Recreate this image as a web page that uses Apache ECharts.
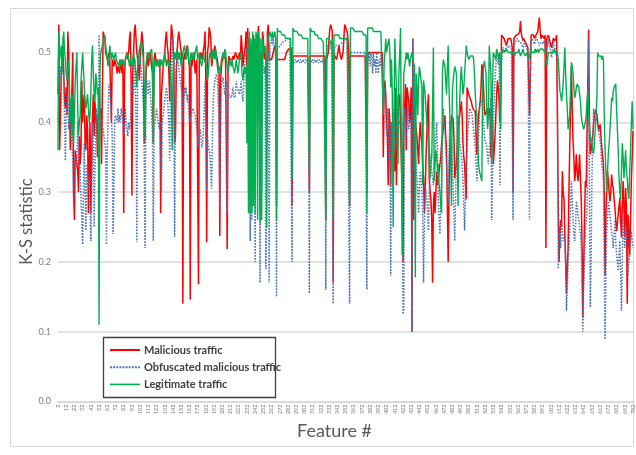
<!DOCTYPE html>
<html>
<head>
<meta charset="utf-8">
<script src="https://cdn.jsdelivr.net/npm/echarts@6/dist/echarts.min.js"></script>
<style>
  html, body { margin: 0; padding: 0; background: #fff; }
  #chart { width: 636px; height: 455px; }
</style>
</head>
<body>
<div id="chart"></div>
<script>
// Feature numbers run from 2 to 702; one K-S value per feature and traffic type.
const FIRST_FEATURE = 2;
const LAST_FEATURE = 702;
const features = [];
for (let f = FIRST_FEATURE; f <= LAST_FEATURE; f++) features.push(String(f));

const yTicks = [0, 0.1, 0.2, 0.3, 0.4, 0.5];

const malicious = [
  .44,.54,.36,.41,.47,.50,.51,.47,.43,.42,
  .45,.41,.53,.50,.42,.36,.40,.45,.50,.30,
  .26,.36,.35,.35,.33,.30,.38,.34,.36,.46,
  .40,.43,.44,.37,.36,.41,.39,.27,.34,.40,
  .27,.35,.41,.44,.38,.43,.40,.41,.35,.40,
  .44,.41,.42,.34,.44,.53,.53,.52,.50,.50,
  .49,.49,.50,.49,.49,.40,.49,.49,.48,.49,
  .49,.48,.47,.48,.48,.47,.49,.48,.47,.49,
  .27,.47,.49,.49,.50,.49,.50,.52,.53,.46,
  .295,.47,.50,.53,.54,.52,.50,.49,.48,.46,
  .49,.51,.53,.52,.50,.37,.38,.46,.49,.50,
  .48,.49,.50,.49,.48,.47,.37,.49,.50,.49,
  .48,.49,.49,.48,.49,.27,.44,.46,.48,.49,
  .50,.52,.53,.51,.50,.47,.43,.50,.54,.53,
  .51,.49,.37,.38,.47,.50,.52,.53,.52,.51,
  .50,.48,.14,.49,.50,.49,.50,.51,.50,.50,
  .48,.146,.49,.48,.49,.50,.49,.47,.48,.49,
  .49,.168,.49,.49,.50,.49,.49,.49,.51,.53,
  .46,.228,.50,.51,.536,.53,.52,.48,.49,.49,
  .50,.51,.50,.50,.49,.48,.47,.237,.46,.48,
  .49,.49,.49,.495,.49,.49,.218,.47,.495,.49,
  .49,.49,.49,.495,.49,.49,.50,.50,.50,.49,
  .495,.50,.49,.525,.51,.48,.49,.50,.51,.53,
  .48,.535,.40,.52,.45,.51,.47,.52,.525,.48,
  .44,.52,.50,.517,.538,.50,.27,.50,.45,.53,
  .52,.49,.50,.49,.45,.53,.54,.49,.49,.49,
  .49,.49,.50,.50,.51,.50,.28,.49,.49,.49,
  .49,.49,.49,.49,.49,.49,.49,.495,.50,.50,
  .50,.505,.505,.507,.507,.28,.495,.495,.495,.495,
  .495,.495,.495,.495,.495,.495,.495,.495,.495,.495,
  .495,.495,.495,.495,.495,.495,.30,.495,.495,.495,
  .495,.495,.495,.495,.495,.495,.495,.495,.495,.495,
  .495,.495,.495,.495,.495,.495,.26,.49,.495,.50,
  .52,.535,.54,.54,.53,.17,.50,.495,.495,.49,
  .495,.495,.51,.50,.495,.49,.495,.50,.52,.54,
  .54,.54,.53,.52,.50,.28,.495,.495,.495,.495,
  .495,.495,.495,.495,.495,.495,.495,.495,.495,.495,
  .495,.495,.495,.495,.495,.495,.30,.50,.50,.50,
  .50,.50,.50,.50,.50,.50,.50,.50,.50,.50,
  .50,.50,.50,.50,.50,.50,.35,.45,.46,.44,
  .40,.38,.31,.42,.40,.31,.40,.38,.36,.34,
  .33,.45,.31,.38,.42,.43,.44,.44,.44,.30,
  .20,.40,.42,.455,.36,.45,.44,.43,.40,.42,
  .45,.10,.52,.26,.36,.40,.40,.38,.36,.34,
  .38,.40,.38,.37,.34,.32,.27,.30,.35,.38,
  .42,.44,.32,.30,.29,.26,.17,.28,.30,.27,
  .30,.33,.31,.32,.33,.33,.35,.37,.38,.39,
  .40,.41,.38,.36,.28,.20,.30,.37,.39,.41,
  .41,.405,.38,.32,.33,.34,.36,.39,.40,.41,
  .42,.43,.41,.37,.35,.34,.31,.29,.45,.45,
  .44,.44,.44,.43,.43,.42,.42,.42,.415,.38,
  .354,.39,.41,.42,.43,.45,.483,.478,.45,.42,
  .41,.41,.41,.42,.41,.42,.41,.35,.42,.40,
  .34,.36,.38,.41,.44,.46,.45,.43,.40,.45,
  .525,.525,.525,.52,.52,.52,.51,.515,.52,.52,
  .52,.52,.515,.507,.30,.52,.52,.52,.525,.525,
  .525,.527,.53,.545,.527,.525,.517,.52,.52,.52,
  .512,.51,.507,.507,.41,.47,.525,.525,.527,.525,
  .52,.52,.525,.527,.53,.532,.55,.53,.52,.525,
  .525,.525,.52,.525,.22,.52,.52,.525,.525,.525,
  .51,.507,.515,.52,.52,.517,.52,.525,.525,.28,
  .20,.24,.26,.25,.33,.30,.29,.24,.20,.155,
  .19,.22,.30,.365,.42,.48,.42,.375,.35,.316,
  .33,.354,.33,.316,.33,.354,.32,.29,.22,.12,
  .197,.26,.316,.307,.38,.46,.533,.40,.354,.36,
  .373,.38,.397,.41,.417,.415,.412,.40,.388,.39,
  .397,.38,.364,.35,.34,.30,.18,.27,.30,.33,
  .316,.30,.287,.30,.325,.31,.306,.29,.278,.26,
  .244,.255,.268,.28,.292,.26,.235,.28,.316,.28,
  .235,.306,.28,.14,.268,.24,.21,.26,.316,.35,
  .388
];

const obfuscated = [
  .40,.43,.46,.48,.46,.46,.50,.47,.40,.345,
  .42,.43,.44,.39,.41,.42,.38,.37,.34,.29,
  .30,.35,.35,.34,.40,.37,.37,.33,.29,.26,
  .225,.30,.37,.30,.245,.34,.34,.32,.30,.28,
  .23,.30,.40,.37,.25,.33,.41,.42,.38,.36,
  .525,.45,.41,.40,.40,.39,.38,.37,.36,.225,
  .36,.41,.455,.45,.43,.41,.38,.24,.30,.40,
  .41,.41,.40,.42,.40,.41,.40,.42,.41,.40,
  .38,.39,.42,.40,.39,.38,.40,.39,.40,.42,
  .455,.45,.44,.47,.49,.40,.228,.48,.50,.505,
  .49,.48,.46,.44,.42,.35,.22,.45,.46,.45,
  .44,.46,.45,.43,.41,.38,.23,.39,.40,.41,
  .42,.41,.40,.39,.40,.35,.30,.40,.41,.42,
  .43,.44,.45,.44,.42,.40,.345,.45,.47,.50,
  .525,.45,.236,.46,.48,.50,.49,.48,.47,.46,
  .45,.44,.40,.43,.45,.44,.45,.43,.44,.42,
  .40,.40,.41,.41,.42,.42,.42,.41,.40,.39,
  .38,.364,.38,.39,.38,.364,.37,.388,.42,.459,
  .40,.30,.38,.364,.36,.354,.33,.305,.38,.43,
  .45,.459,.465,.469,.465,.464,.40,.28,.42,.454,
  .46,.464,.45,.44,.45,.459,.27,.43,.44,.44,
  .44,.435,.44,.45,.44,.435,.44,.459,.45,.45,
  .45,.44,.45,.459,.44,.43,.45,.478,.49,.50,
  .507,.50,.27,.40,.23,.38,.26,.40,.316,.42,
  .20,.48,.505,.51,.51,.50,.17,.45,.30,.49,
  .48,.47,.48,.19,.26,.49,.50,.17,.51,.51,
  .52,.51,.52,.51,.51,.50,.15,.505,.507,.508,
  .51,.51,.512,.513,.515,.515,.517,.517,.518,.52,
  .52,.52,.52,.52,.52,.20,.49,.49,.485,.49,
  .49,.485,.49,.49,.485,.49,.49,.485,.49,.49,
  .49,.485,.49,.49,.49,.485,.155,.49,.485,.49,
  .49,.485,.49,.49,.485,.49,.49,.485,.49,.49,
  .49,.485,.49,.49,.49,.485,.16,.50,.51,.51,
  .51,.51,.505,.51,.51,.14,.505,.505,.51,.51,
  .51,.51,.51,.51,.512,.512,.515,.515,.515,.517,
  .517,.517,.52,.52,.52,.14,.50,.50,.50,.50,
  .50,.50,.50,.50,.50,.50,.50,.50,.50,.50,
  .50,.50,.50,.50,.50,.50,.16,.50,.49,.50,
  .48,.50,.49,.47,.50,.48,.49,.47,.50,.48,
  .47,.49,.48,.50,.48,.47,.42,.44,.45,.45,
  .38,.42,.42,.34,.40,.18,.40,.35,.30,.42,
  .42,.36,.40,.44,.38,.40,.40,.40,.40,.30,
  .125,.13,.42,.39,.38,.40,.42,.39,.40,.41,
  .40,.10,.52,.33,.36,.35,.34,.34,.30,.27,
  .31,.33,.32,.30,.27,.17,.25,.31,.30,.29,
  .27,.245,.30,.354,.34,.33,.32,.31,.33,.36,
  .38,.40,.35,.29,.26,.24,.28,.32,.38,.42,
  .40,.388,.36,.34,.31,.28,.35,.402,.38,.364,
  .34,.316,.27,.23,.29,.35,.38,.41,.39,.373,
  .36,.354,.34,.316,.28,.245,.30,.34,.36,.388,
  .40,.42,.42,.415,.412,.40,.388,.375,.364,.34,
  .316,.354,.38,.412,.43,.433,.435,.42,.40,.385,
  .373,.37,.364,.35,.34,.36,.373,.435,.26,.33,
  .40,.43,.459,.48,.498,.49,.483,.50,.31,.47,
  .488,.50,.507,.505,.50,.505,.51,.51,.507,.51,
  .512,.51,.507,.507,.26,.51,.512,.515,.517,.52,
  .517,.517,.515,.515,.512,.51,.507,.51,.517,.512,
  .507,.505,.50,.50,.26,.507,.515,.52,.517,.515,
  .512,.515,.522,.52,.517,.515,.51,.51,.515,.515,
  .515,.512,.517,.51,.50,.498,.51,.52,.51,.507,
  .50,.493,.505,.517,.51,.507,.50,.493,.49,.19,
  .244,.24,.22,.26,.25,.23,.23,.235,.20,.13,
  .16,.197,.22,.25,.28,.316,.29,.26,.24,.23,
  .25,.287,.28,.268,.26,.25,.24,.22,.16,.10,
  .17,.20,.244,.26,.268,.40,.52,.30,.135,.20,
  .32,.37,.42,.41,.402,.405,.407,.40,.393,.38,
  .373,.36,.34,.33,.316,.20,.089,.18,.244,.26,
  .287,.28,.268,.255,.244,.23,.22,.24,.26,.23,
  .21,.20,.187,.21,.23,.18,.13,.20,.268,.24,
  .22,.24,.25,.22,.18,.20,.21,.23,.244,.23,
  .22
];

const legitimate = [
  .36,.53,.49,.50,.51,.47,.52,.53,.50,.49,
  .47,.46,.48,.49,.45,.40,.43,.44,.38,.37,
  .41,.46,.48,.50,.42,.38,.40,.41,.46,.48,
  .50,.50,.45,.43,.42,.43,.44,.42,.40,.41,
  .44,.49,.51,.47,.44,.43,.47,.46,.44,.45,
  .11,.47,.50,.50,.51,.51,.52,.525,.51,.50,
  .49,.48,.49,.51,.50,.49,.50,.50,.49,.49,
  .50,.49,.49,.49,.48,.49,.49,.48,.49,.49,
  .49,.48,.49,.49,.49,.50,.49,.48,.49,.49,
  .48,.49,.50,.49,.48,.47,.45,.48,.49,.50,
  .51,.515,.51,.50,.49,.45,.375,.48,.49,.49,
  .50,.49,.50,.50,.505,.48,.37,.47,.49,.49,
  .48,.49,.49,.48,.49,.48,.49,.49,.48,.49,
  .50,.49,.48,.49,.49,.48,.49,.47,.45,.36,
  .47,.49,.50,.49,.50,.505,.50,.49,.50,.49,
  .48,.49,.50,.50,.51,.50,.49,.50,.51,.49,
  .48,.49,.50,.49,.49,.50,.49,.50,.50,.51,
  .49,.49,.50,.49,.49,.48,.49,.50,.49,.49,
  .49,.48,.46,.47,.49,.50,.50,.49,.50,.505,
  .50,.49,.505,.49,.48,.47,.48,.47,.48,.49,
  .49,.50,.49,.505,.50,.49,.48,.47,.48,.49,
  .49,.48,.49,.48,.48,.47,.48,.49,.48,.47,
  .48,.49,.49,.50,.47,.46,.47,.48,.47,.48,
  .37,.52,.27,.53,.27,.52,.27,.53,.28,.52,
  .27,.53,.52,.26,.53,.52,.255,.52,.26,.52,
  .51,.50,.51,.50,.25,.51,.52,.52,.53,.53,
  .52,.53,.52,.52,.53,.52,.26,.535,.53,.53,
  .53,.53,.53,.525,.525,.525,.525,.52,.52,.52,
  .52,.52,.52,.52,.52,.32,.535,.535,.53,.53,
  .53,.53,.53,.525,.525,.525,.525,.525,.52,.52,
  .52,.52,.52,.52,.52,.52,.33,.535,.535,.53,
  .53,.53,.53,.525,.525,.525,.525,.52,.52,.52,
  .52,.52,.52,.515,.515,.515,.26,.52,.52,.52,
  .52,.52,.52,.51,.52,.26,.525,.525,.525,.525,
  .525,.525,.525,.52,.52,.52,.52,.52,.52,.52,
  .52,.52,.52,.52,.52,.28,.535,.535,.535,.535,
  .535,.53,.53,.53,.53,.53,.53,.53,.53,.53,
  .53,.53,.525,.525,.525,.525,.27,.535,.535,.535,
  .535,.535,.535,.535,.53,.53,.53,.53,.53,.53,
  .53,.53,.53,.53,.53,.53,.41,.48,.50,.52,
  .50,.50,.515,.52,.50,.45,.49,.44,.25,.40,
  .52,.52,.45,.40,.34,.47,.50,.535,.535,.21,
  .40,.47,.48,.49,.50,.49,.50,.49,.48,.49,
  .49,.50,.49,.49,.48,.178,.47,.45,.41,.46,
  .48,.47,.47,.45,.31,.46,.45,.44,.44,.40,
  .40,.37,.34,.32,.34,.35,.42,.507,.316,.34,
  .36,.35,.33,.34,.31,.30,.28,.27,.47,.49,
  .49,.48,.46,.44,.48,.51,.45,.41,.35,.28,
  .44,.46,.47,.48,.48,.47,.38,.28,.38,.43,
  .46,.48,.46,.44,.45,.47,.49,.51,.50,.495,
  .49,.49,.495,.495,.495,.495,.49,.47,.44,.42,
  .41,.38,.34,.33,.33,.32,.316,.46,.48,.488,
  .48,.47,.42,.39,.41,.51,.49,.47,.34,.45,
  .50,.50,.50,.49,.505,.50,.50,.49,.50,.39,
  .50,.505,.505,.50,.50,.50,.505,.505,.50,.50,
  .50,.50,.50,.50,.50,.50,.495,.50,.50,.50,
  .50,.505,.50,.495,.495,.50,.505,.50,.50,.495,
  .495,.50,.50,.49,.495,.50,.505,.50,.50,.50,
  .50,.505,.50,.50,.505,.50,.50,.505,.505,.505,
  .505,.505,.505,.50,.50,.48,.49,.50,.50,.50,
  .50,.50,.50,.50,.505,.50,.50,.50,.50,.49,
  .47,.445,.44,.43,.44,.455,.48,.507,.47,.44,
  .42,.39,.40,.41,.45,.486,.48,.47,.45,.435,
  .44,.45,.455,.455,.45,.45,.43,.41,.40,.40,
  .39,.388,.40,.41,.43,.445,.42,.388,.38,.375,
  .37,.36,.355,.37,.388,.41,.435,.50,.495,.495,
  .495,.495,.49,.495,.49,.41,.36,.33,.30,.33,
  .356,.37,.39,.41,.435,.43,.445,.45,.45,.455,
  .42,.39,.36,.32,.30,.29,.33,.37,.35,.32,
  .34,.36,.33,.32,.30,.29,.33,.36,.40,.43,
  .39
];

const FONT = 'Lato, "Open Sans", "DejaVu Sans", sans-serif';
const RED = '#ff0000';
const BLUE = '#4a72b8';
const GREEN = '#00b050';

// Legend keys: a solid bar for the two solid lines, a row of small squares for the dotted one.
const solidKey = h => 'path://M0 0H30V' + h + 'H0Z';
let dottedKey = 'path://';
for (let x = 0; x < 30; x += 3) dottedKey += 'M' + x + ' 0h1.8v1.8h-1.8z';

const chart = echarts.init(document.getElementById('chart'), null, { renderer: 'canvas' });

chart.setOption({
  animation: false,
  backgroundColor: '#ffffff',
  textStyle: { fontFamily: FONT },
  graphic: [
    {
      type: 'rect', z: 0, silent: true,
      shape: { x: 10.5, y: 8.5, width: 623, height: 438 },
      style: { fill: 'none', stroke: '#d9d9d9', lineWidth: 1 }
    },
    {
      type: 'rect', z: 3, silent: true,
      shape: { x: 103.5, y: 337.5, width: 172, height: 60 },
      style: { fill: '#ffffff', stroke: '#404040', lineWidth: 1.3 }
    }
  ],
  legend: {
    orient: 'vertical',
    left: 110,
    top: 344.5,
    padding: 0,
    itemGap: 6.2,
    itemWidth: 30,
    itemHeight: 13,
    symbolKeepAspect: true,
    z: 5,
    textStyle: { fontFamily: FONT, fontSize: 11, fontWeight: 'bold', color: '#404040', padding: [0, 0, 0, -1] },
    data: [
      { name: 'Malicious traffic', icon: solidKey(2), itemStyle: { color: RED } },
      { name: 'Obfuscated malicious traffic', icon: dottedKey, itemStyle: { color: BLUE } },
      { name: 'Legitimate traffic', icon: solidKey(1.6), itemStyle: { color: GREEN } }
    ]
  },
  grid: { left: 58, right: 3, top: 17.6, bottom: 53.5, containLabel: false },
  xAxis: {
    type: 'category',
    data: features,
    boundaryGap: false,
    name: 'Feature #',
    nameLocation: 'middle',
    nameGap: 20,
    nameTextStyle: { fontFamily: FONT, fontSize: 18, color: '#595959', padding: [0, 22, 0, 0] },
    axisLine: { lineStyle: { color: '#d9d9d9', width: 1.5 } },
    axisTick: { show: false },
    axisLabel: {
      interval: 9, rotate: 90, fontSize: 5.5, color: '#808080', margin: 3, fontFamily: FONT
    },
    splitLine: { show: false }
  },
  yAxis: {
    type: 'value',
    min: 0,
    max: 0.55,
    interval: 0.1,
    name: 'K-S statistic',
    nameLocation: 'middle',
    nameMoveOverlap: false,
    nameGap: 23,
    nameTextStyle: { fontFamily: FONT, fontSize: 16.5, color: '#595959', padding: [0, 24, 0, 0] },
    axisLine: { show: false },
    axisTick: { show: false },
    axisLabel: {
      fontSize: 9, color: '#808080', margin: 7, fontFamily: FONT,
      showMaxLabel: false,
      formatter: v => (yTicks.some(t => Math.abs(t - v) < 1e-9) ? v.toFixed(1) : '')
    },
    splitLine: { showMaxLine: false, lineStyle: { color: '#d9d9d9', width: 1.5 } }
  },
  series: [
    {
      name: 'Malicious traffic', type: 'line', data: malicious,
      symbol: 'none', sampling: null, z: 2,
      lineStyle: { color: RED, width: 1.5 },
      itemStyle: { color: RED }
    },
    {
      name: 'Obfuscated malicious traffic', type: 'line', data: obfuscated,
      symbol: 'none', sampling: null, z: 2,
      lineStyle: { color: BLUE, width: 1.5, type: 'dotted' },
      itemStyle: { color: BLUE }
    },
    {
      name: 'Legitimate traffic', type: 'line', data: legitimate,
      symbol: 'none', sampling: null, z: 2,
      lineStyle: { color: GREEN, width: 1.4 },
      itemStyle: { color: GREEN }
    }
  ]
});
</script>
</body>
</html>
